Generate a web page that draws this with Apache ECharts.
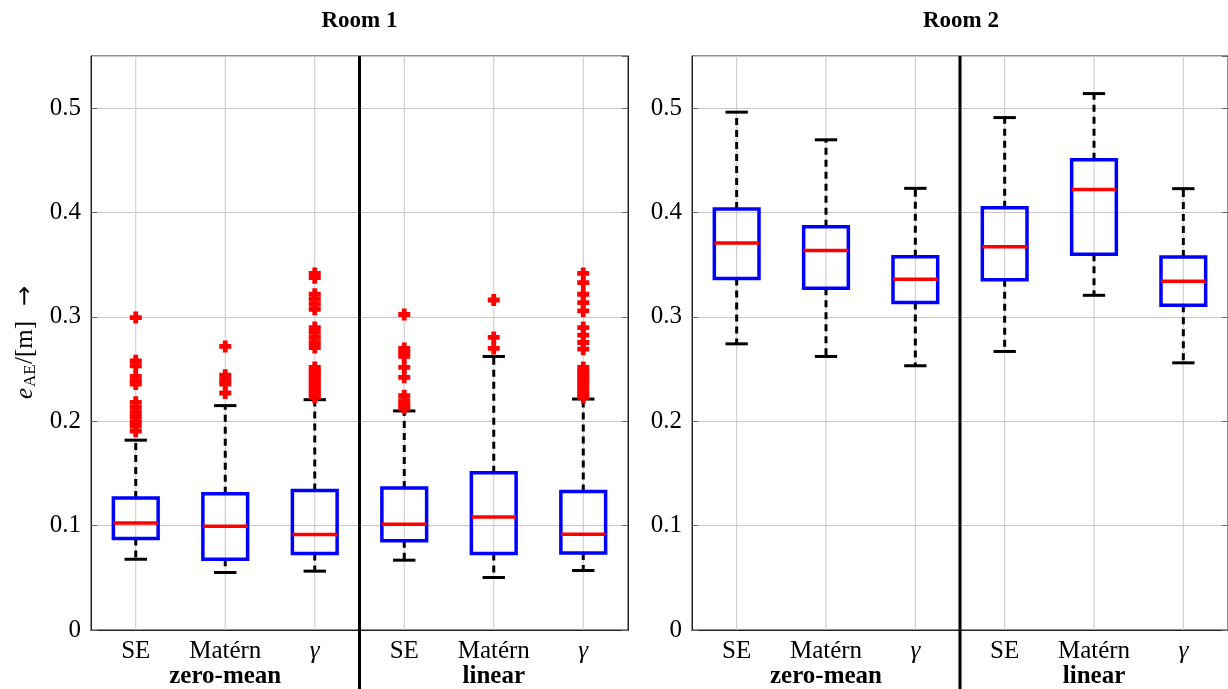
<!DOCTYPE html>
<html>
<head>
<meta charset="utf-8">
<script src="https://cdn.jsdelivr.net/npm/echarts@6/dist/echarts.min.js"></script>
<style>
  html, body { margin: 0; padding: 0; background: #fff; }
  #chart { width: 1228px; height: 689px; }
</style>
</head>
<body>
<div id="chart"></div>
<script>
// Categorias del eje x (3 kernels x 2 funciones de media)
var categories  = ['SE', 'Matérn', 'γ', 'SE', 'Matérn', 'γ'];
var groupLabels = ['zero-mean', 'linear'];
var roomTitles  = ['Room 1', 'Room 2'];

// Cajas: [bigote inferior, q1, mediana, q3, bigote superior]
var room1Boxes = [
    [0.0678, 0.0876, 0.1026, 0.1265, 0.1819],
    [0.0551, 0.0678, 0.0994, 0.1306, 0.2150],
    [0.0564, 0.0733, 0.0914, 0.1337, 0.2207],
    [0.0669, 0.0854, 0.1013, 0.1360, 0.2099],
    [0.0503, 0.0733, 0.1083, 0.1507, 0.2621],
    [0.0570, 0.0739, 0.0917, 0.1328, 0.2213]
];
var room2Boxes = [
    [0.2742, 0.3369, 0.3707, 0.4035, 0.4962],
    [0.2621, 0.3274, 0.3637, 0.3863, 0.4697],
    [0.2532, 0.3137, 0.3360, 0.3577, 0.4232],
    [0.2669, 0.3357, 0.3672, 0.4045, 0.4910],
    [0.3207, 0.3601, 0.4220, 0.4506, 0.5140],
    [0.2560, 0.3111, 0.3341, 0.3573, 0.4229]
];

// Valores atipicos (Room 1), uno por categoria
var room1Outliers = [
    [0.2994, 0.2579, 0.2532, 0.2430, 0.2388, 0.2357, 0.2182, 0.2134, 0.2086, 0.2045, 0.1997, 0.1953, 0.1905],
    [0.2717, 0.2442, 0.2398, 0.2357, 0.2271],
    [0.3417, 0.3376, 0.3217, 0.3169, 0.3120, 0.3073, 0.2898, 0.2851, 0.2803, 0.2755, 0.2707,
     0.2516, 0.2484, 0.2452, 0.2421, 0.2388, 0.2357, 0.2325, 0.2293, 0.2261, 0.2230],
    [0.3023, 0.2698, 0.2660, 0.2621, 0.2516, 0.2421, 0.2245, 0.2197, 0.2156, 0.2124],
    [0.3162, 0.2803, 0.2698],
    [0.3417, 0.3328, 0.3217, 0.3137, 0.3057, 0.2898, 0.2825, 0.2755, 0.2691,
     0.2516, 0.2484, 0.2452, 0.2421, 0.2388, 0.2357, 0.2325, 0.2293, 0.2261, 0.2230]
];
var room2Outliers = [[], [], [], [], [], []];

(function () {
    'use strict';

    var SERIF = "'Liberation Serif', 'DejaVu Serif', serif";
    var FRAME = '#222';
    var GRID_COLOR = '#c8c8c8';
    var PLUS = 'path://M3,0H7V3H10V7H7V10H3V7H0V3H3Z';

    var grids = [
        { left: 91,  top: 56, width: 537, height: 576 },
        { left: 692, top: 56, width: 538, height: 576 }
    ];

    function boxData(boxes) {
        return boxes.map(function (b, i) { return [i].concat(b); });
    }
    function outlierData(list) {
        var out = [];
        list.forEach(function (vals, i) {
            vals.forEach(function (v) { out.push([i, v]); });
        });
        return out;
    }

    // Caja con bigotes discontinuos, borde azul y mediana roja
    function renderBox(params, api) {
        var x = api.value(0);
        var pLow  = api.coord([x, api.value(1)]);
        var pQ1   = api.coord([x, api.value(2)]);
        var pMed  = api.coord([x, api.value(3)]);
        var pQ3   = api.coord([x, api.value(4)]);
        var pHigh = api.coord([x, api.value(5)]);
        var band = api.size([1, 0])[0];
        var hb = band * 0.25;
        var hc = band * 0.125;
        var cx = pMed[0];
        var dash = { stroke: '#000', lineWidth: 3, lineDash: [7, 5] };
        var solid = { stroke: '#000', lineWidth: 3 };
        return {
            type: 'group',
            children: [
                { type: 'line', shape: { x1: cx, y1: pQ3[1], x2: cx, y2: pHigh[1] }, style: dash },
                { type: 'line', shape: { x1: cx, y1: pQ1[1], x2: cx, y2: pLow[1] }, style: dash },
                { type: 'line', shape: { x1: cx - hc, y1: pHigh[1], x2: cx + hc, y2: pHigh[1] }, style: solid },
                { type: 'line', shape: { x1: cx - hc, y1: pLow[1], x2: cx + hc, y2: pLow[1] }, style: solid },
                { type: 'rect', shape: { x: cx - hb, y: pQ3[1], width: 2 * hb, height: pQ1[1] - pQ3[1] },
                  style: { fill: 'none', stroke: '#0000ff', lineWidth: 3.5 } },
                { type: 'line', shape: { x1: cx - hb, y1: pMed[1], x2: cx + hb, y2: pMed[1] },
                  style: { stroke: '#ff0000', lineWidth: 3.5 } }
            ]
        };
    }

    // Linea vertical de rejilla en cada categoria
    function renderGridLine(params, api) {
        var p = api.coord([api.value(0), 0]);
        var cs = params.coordSys;
        return {
            type: 'line',
            shape: { x1: p[0], y1: cs.y, x2: p[0], y2: cs.y + cs.height },
            style: { stroke: GRID_COLOR, lineWidth: 1 }
        };
    }

    var xAxes = [], yAxes = [], series = [];
    var allBoxes = [room1Boxes, room2Boxes];
    var allOutliers = [room1Outliers, room2Outliers];

    grids.forEach(function (g, gi) {
        g.show = true;
        g.borderColor = FRAME;
        g.borderWidth = 1;
        g.containLabel = false;

        xAxes.push({
            type: 'category', gridIndex: gi, data: categories, position: 'bottom',
            axisLine: { lineStyle: { color: FRAME } },
            axisTick: { inside: true, alignWithLabel: true, length: 6, lineStyle: { color: '#666' } },
            splitLine: { show: false },
            axisLabel: {
                interval: 0, margin: 9, color: '#000', fontFamily: SERIF, fontSize: 25,
                formatter: function (v, i) {
                    var t = v === 'γ' ? '{g|γ}' : '{n|' + v + '}';
                    if (i === 1) t += '\n{b|' + groupLabels[0] + '}';
                    if (i === 4) t += '\n{b|' + groupLabels[1] + '}';
                    return t;
                },
                rich: {
                    n: { fontFamily: SERIF, fontSize: 25, lineHeight: 25, color: '#000' },
                    g: { fontFamily: SERIF, fontSize: 25, lineHeight: 25, fontStyle: 'italic', color: '#000' },
                    b: { fontFamily: SERIF, fontSize: 25, lineHeight: 25, fontWeight: 'bold', color: '#000' }
                }
            }
        });
        xAxes.push({
            type: 'category', gridIndex: gi, data: categories, position: 'top',
            axisLine: { lineStyle: { color: FRAME } },
            axisTick: { inside: true, alignWithLabel: true, length: 6, lineStyle: { color: '#666' } },
            axisLabel: { show: false }, splitLine: { show: false }
        });
        yAxes.push({
            type: 'value', gridIndex: gi, min: 0, max: 0.55, interval: 0.1, position: 'left',
            axisLine: { show: true, lineStyle: { color: FRAME } },
            axisTick: { show: true, inside: true, length: 6, lineStyle: { color: '#666' } },
            splitLine: { show: true, lineStyle: { color: GRID_COLOR, width: 1 } },
            axisLabel: { showMaxLabel: false, margin: 10, color: '#000', fontFamily: SERIF, fontSize: 25 }
        });
        yAxes.push({
            type: 'value', gridIndex: gi, min: 0, max: 0.55, interval: 0.1, position: 'right',
            axisLine: { show: true, lineStyle: { color: FRAME } },
            axisTick: { show: true, inside: true, length: 6, lineStyle: { color: '#666' } },
            splitLine: { show: false }, axisLabel: { show: false }
        });

        series.push({
            type: 'custom', xAxisIndex: gi * 2, yAxisIndex: gi * 2, z: 1, silent: true,
            renderItem: renderGridLine,
            data: categories.map(function (c, i) { return [i, 0]; }),
            encode: { x: 0, y: 1 }
        });
        series.push({
            type: 'custom', xAxisIndex: gi * 2, yAxisIndex: gi * 2, z: 2,
            renderItem: renderBox,
            data: boxData(allBoxes[gi]),
            encode: { x: 0, y: [1, 2, 3, 4, 5] }
        });
        series.push({
            type: 'scatter', xAxisIndex: gi * 2, yAxisIndex: gi * 2, z: 3,
            symbol: PLUS, symbolSize: 12,
            itemStyle: { color: '#ff0000', opacity: 1 },
            data: outlierData(allOutliers[gi])
        });
    });

    var chart = echarts.init(document.getElementById('chart'), null, { renderer: 'canvas' });
    chart.setOption({
        backgroundColor: '#fff',
        animation: false,
        grid: grids,
        xAxis: xAxes,
        yAxis: yAxes,
        series: series
    });

    // Titulos, nombre del eje y separadores entre grupos
    var graphics = [];
    grids.forEach(function (g, gi) {
        graphics.push({
            type: 'text', x: g.left + g.width / 2, y: 21,
            style: { text: roomTitles[gi], fontFamily: SERIF, fontSize: 23, fontWeight: 'bold',
                     fill: '#000', textAlign: 'center', textVerticalAlign: 'middle' }
        });
        var a = chart.convertToPixel({ xAxisIndex: gi * 2 }, 2);
        var b = chart.convertToPixel({ xAxisIndex: gi * 2 }, 3);
        var sx = (a + b) / 2;
        graphics.push({
            type: 'line', shape: { x1: sx, y1: g.top, x2: sx, y2: 689 },
            style: { stroke: '#000', lineWidth: 3 }, z: 10
        });
    });
    graphics.push({
        type: 'group', x: 25, y: 335, rotation: Math.PI / 2,
        children: [
            { type: 'text', x: -64, y: 0, style: { text: 'e', fontFamily: SERIF, fontSize: 25, fontStyle: 'italic',
              fill: '#000', textAlign: 'left', textVerticalAlign: 'middle' } },
            { type: 'text', x: -52, y: 6, style: { text: 'AE', fontFamily: SERIF, fontSize: 17,
              fill: '#000', textAlign: 'left', textVerticalAlign: 'middle' } },
            { type: 'text', x: -29, y: 0, style: { text: '/[m]', fontFamily: SERIF, fontSize: 25,
              fill: '#000', textAlign: 'left', textVerticalAlign: 'middle' } },
            { type: 'text', x: 29, y: 1, style: { text: '\u2192', fontFamily: "'DejaVu Sans', sans-serif", fontSize: 24,
              fill: '#000', textAlign: 'left', textVerticalAlign: 'middle' } }
        ]
    });
    chart.setOption({ graphic: graphics });
})();
</script>
</body>
</html>
